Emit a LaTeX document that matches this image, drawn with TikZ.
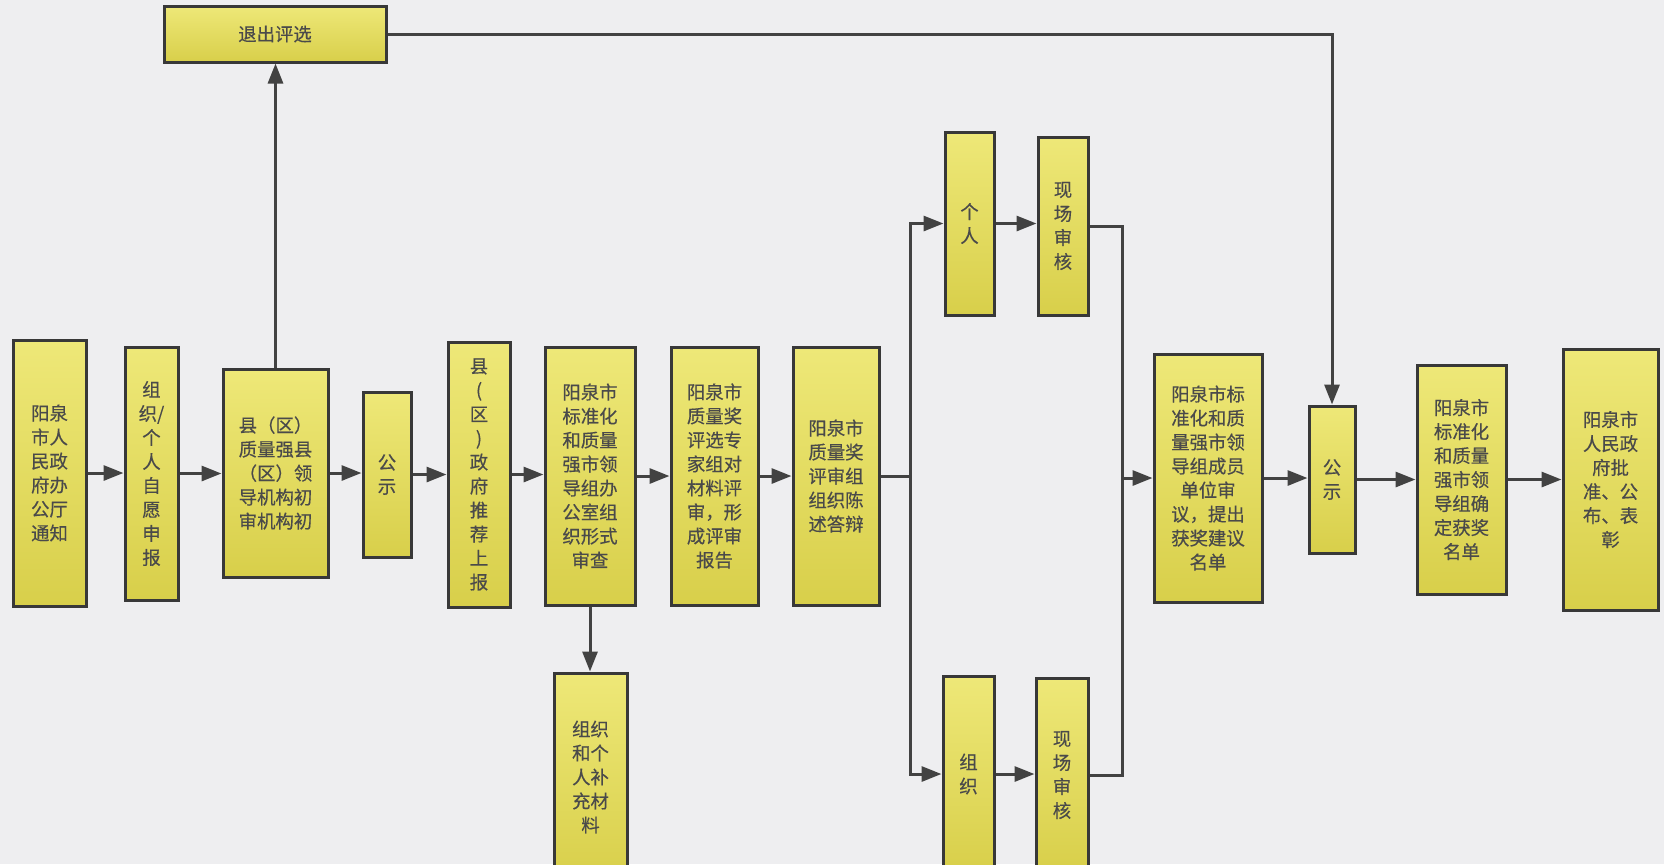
\documentclass[tikz,border=0pt]{standalone}
\usepackage{fontspec}
\newfontfamily\cjk[FakeBold=0.4]{Noto Sans CJK SC}
\usetikzlibrary{arrows.meta}
\definecolor{bg}{HTML}{EEEEF0}
\definecolor{edge}{HTML}{383838}
\definecolor{ln}{HTML}{424242}
\definecolor{txt}{HTML}{4A4A4A}
\definecolor{ytop}{HTML}{EEE878}
\definecolor{ybot}{HTML}{D8CF4A}
\tikzset{
 box/.style={draw=edge, line width=1.5pt, top color=ytop, bottom color=ybot, inner sep=0pt, align=center, text=txt, font=\cjk\fontsize{9.2}{12}\selectfont},
 conn/.style={draw=ln, line width=1.5pt},
 arr/.style={conn, -{Triangle[length=10pt,width=7.5pt]}},
}
\begin{document}
\begin{tikzpicture}[x=0.5pt,y=-0.5pt]
\clip (0,0) rectangle (1664,864);
\fill[bg] (0,0) rectangle (1664,864);
\useasboundingbox (0,0) rectangle (1664,864);
% main row
\node[box, minimum width=36.5pt, minimum height=133pt] (n1) at (49.5,473) {阳泉\\市人\\民政\\府办\\公厅\\通知};
\node[box, minimum width=26.5pt, minimum height=126.5pt] (n2) at (151.5,473.5) {组\\织/\\个\\人\\自\\愿\\申\\报};
\node[box, minimum width=52.5pt, minimum height=104pt] (n3) at (275.5,473) {县（区）\\质量强县\\（区）领\\导机构初\\审机构初};
\node[box, minimum width=24pt, minimum height=82.5pt] (n4) at (387,474.5) {公\\示};
\node[box, minimum width=31pt, minimum height=132.5pt] (n5) at (479,474.5) {县\\(\\区\\)\\政\\府\\推\\荐\\上\\报};
\node[box, minimum width=45pt, minimum height=129pt] (n6) at (590,476) {阳泉市\\标准化\\和质量\\强市领\\导组办\\公室组\\织形式\\审查};
\node[box, minimum width=43.5pt, minimum height=129pt] (n7) at (714.5,476) {阳泉市\\质量奖\\评选专\\家组对\\材料评\\审，形\\成评审\\报告};
\node[box, minimum width=43pt, minimum height=129pt] (n8) at (836,476) {阳泉市\\质量奖\\评审组\\组织陈\\述答辩};
% branches
\node[box, minimum width=24.5pt, minimum height=91.5pt] (ind) at (969.5,223.5) {个\\人};
\node[box, minimum width=25pt, minimum height=89pt] (ind2) at (1063,226) {现\\场\\审\\核};
\node[box, minimum width=25.5pt, minimum height=98pt] (org) at (968.5,774) {组\\织};
\node[box, minimum width=26pt, minimum height=97pt] (org2) at (1062,775) {现\\场\\审\\核};
\node[box, minimum width=36.5pt, minimum height=104pt] (sup) at (590.5,777) {组织\\和个\\人补\\充材\\料};
% right part
\node[box, minimum width=54pt, minimum height=124pt] (rev) at (1208,478) {阳泉市标\\准化和质\\量强市领\\导组成员\\单位审\\议，提出\\获奖建议\\名单};
\node[box, minimum width=23pt, minimum height=73.5pt] (pub2) at (1332,479.5) {公\\示};
\node[box, minimum width=44.5pt, minimum height=114.5pt] (fin) at (1461.5,479.5) {阳泉市\\标准化\\和质量\\强市领\\导组确\\定获奖\\名单};
\node[box, minimum width=47.5pt, minimum height=130.5pt] (last) at (1610.5,479.5) {阳泉市\\人民政\\府批\\准、公\\布、表\\彰};
\node[box, minimum width=111pt, minimum height=28pt] (quit) at (275,34) {退出评选};
% junction coordinates
\coordinate (sp) at (910,477);
\coordinate (jn) at (1122,478);
% connectors
\draw[arr] (n1.east) -- (n1.east -| n2.west);
\draw[arr] (n2.east) -- (n2.east -| n3.west);
\draw[arr] (n3.east) -- (n3.east -| n4.west);
\draw[arr] (n4.east) -- (n4.east -| n5.west);
\draw[arr] (n5.east) -- (n5.east -| n6.west);
\draw[arr] (n6.east) -- (n6.east -| n7.west);
\draw[arr] (n7.east) -- (n7.east -| n8.west);
\draw[arr] (n3.north) -- (n3.north |- quit.south);
\draw[arr] (quit.east) -| (pub2.north);
\draw[arr] (n6.south) -- (n6.south |- sup.north);
\draw[conn] (n8.east) -- (n8.east -| sp);
\draw[arr] (n8.east -| sp) |- (ind.west);
\draw[arr] (n8.east -| sp) |- (org.west);
\draw[arr] (ind.east) -- (ind.east -| ind2.west);
\draw[arr] (org.east) -- (org.east -| org2.west);
\draw[conn] (ind2.east) -| (jn);
\draw[conn] (org2.east) -| (jn);
\draw[arr] (jn) -- (jn -| rev.west);
\draw[arr] (rev.east) -- (rev.east -| pub2.west);
\draw[arr] (pub2.east) -- (pub2.east -| fin.west);
\draw[arr] (fin.east) -- (fin.east -| last.west);
\end{tikzpicture}
\end{document}
